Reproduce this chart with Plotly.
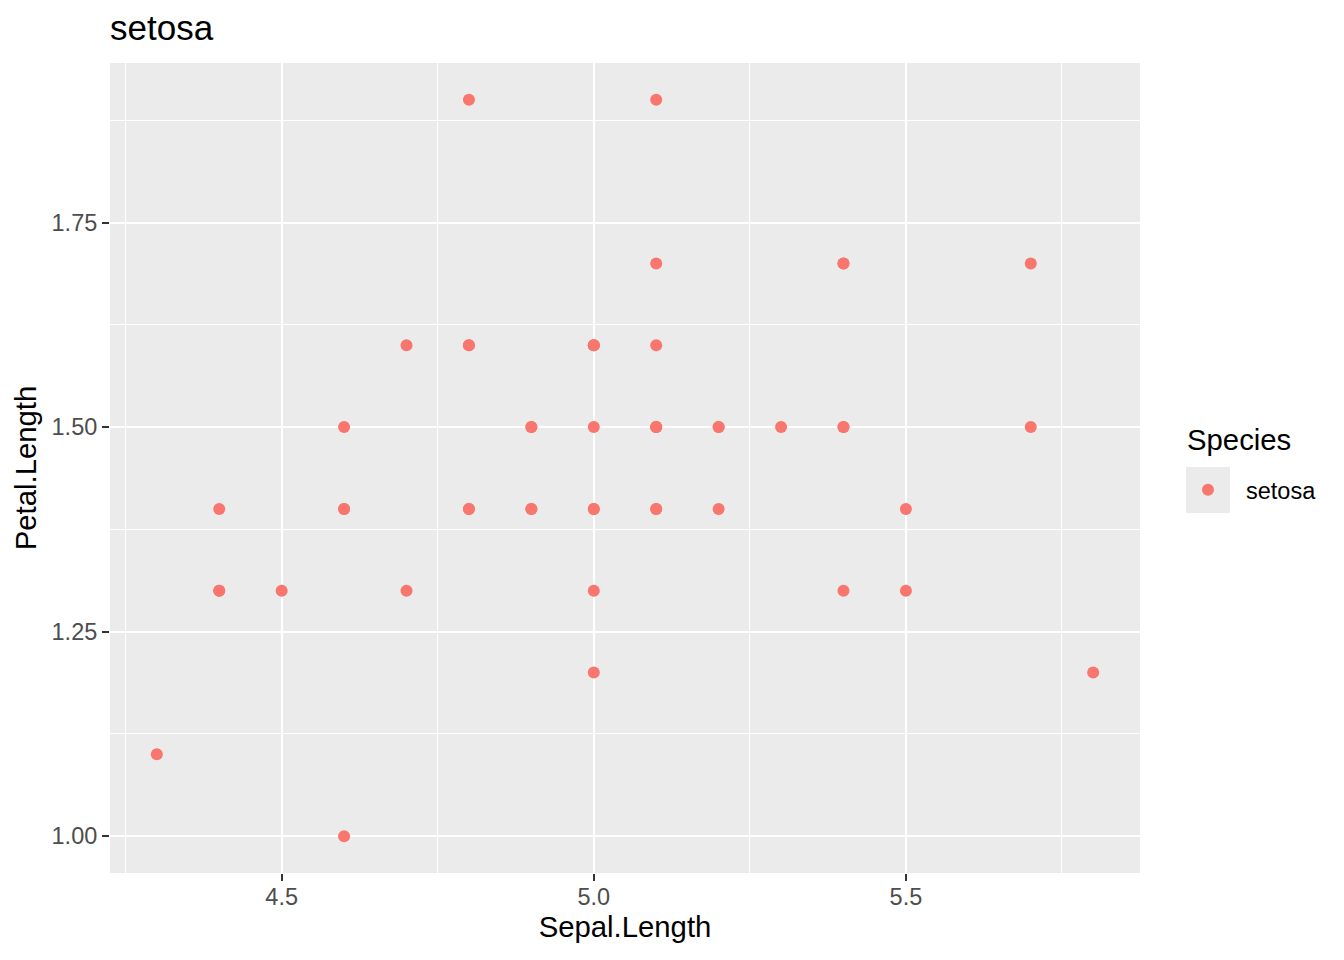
import plotly.graph_objects as go

sepal_length = [5.1, 4.9, 4.7, 4.6, 5.0, 5.4, 4.6, 5.0, 4.4, 4.9,
                5.4, 4.8, 4.8, 4.3, 5.8, 5.7, 5.4, 5.1, 5.7, 5.1,
                5.4, 5.1, 4.6, 5.1, 4.8, 5.0, 5.0, 5.2, 5.2, 4.7,
                4.8, 5.4, 5.2, 5.5, 4.9, 5.0, 5.5, 4.9, 4.4, 5.1,
                5.0, 4.5, 4.4, 5.0, 5.1, 4.8, 5.1, 4.6, 5.3, 5.0]
petal_length = [1.4, 1.4, 1.3, 1.5, 1.4, 1.7, 1.4, 1.5, 1.4, 1.5,
                1.5, 1.6, 1.4, 1.1, 1.2, 1.5, 1.3, 1.4, 1.7, 1.5,
                1.7, 1.5, 1.0, 1.7, 1.9, 1.6, 1.6, 1.5, 1.4, 1.6,
                1.6, 1.5, 1.5, 1.4, 1.5, 1.2, 1.3, 1.4, 1.3, 1.5,
                1.3, 1.3, 1.3, 1.6, 1.9, 1.4, 1.6, 1.4, 1.5, 1.4]
species = "setosa"
x_ticks = [4.5, 5.0, 5.5]
x_tick_labels = ["4.5", "5.0", "5.5"]
y_ticks = [1.00, 1.25, 1.50, 1.75]
y_tick_labels = ["1.00", "1.25", "1.50", "1.75"]

FONT = "Liberation Sans, Arial, sans-serif"
OFF = 8  # page body margin
SW, SH = 1344, 960
# plot area in screen coords
PX0, PX1, PY0, PY1 = 110, 1140, 63, 873
W, H = SW - OFF, SH - OFF
L, T = PX0 - OFF, PY0 - OFF
R, B = W - (PX1 - OFF), H - (PY1 - OFF)
pw, ph = PX1 - PX0, PY1 - PY0


def px(sx):
    return (sx - PX0) / pw


def py(sy):
    return (PY1 - sy) / ph


xmin, xmax = min(sepal_length), max(sepal_length)
ymin, ymax = min(petal_length), max(petal_length)
xpad = (xmax - xmin) * 0.05
ypad = (ymax - ymin) * 0.05

fig = go.Figure()
fig.add_trace(go.Scatter(
    x=sepal_length, y=petal_length, mode="markers", name=species,
    marker=dict(color="#F8766D", size=12, line=dict(width=0)),
))

axis_common = dict(
    showgrid=True, gridcolor="white", gridwidth=2.4,
    zeroline=False, showline=False,
    ticks="outside", ticklen=7, tickwidth=2.4, tickcolor="#333333",
    tickfont=dict(family=FONT, size=23.5, color="#4D4D4D"),
)

fig.update_xaxes(
    range=[xmin - xpad, xmax + xpad], tickmode="array",
    tickvals=x_ticks, ticktext=x_tick_labels,
    minor=dict(tickmode="linear", tick0=4.25, dtick=0.25, showgrid=True,
               gridcolor="white", gridwidth=1.2, ticks=""),
    ticklabelstandoff=-4,
    title=dict(text="Sepal.Length", font=dict(family=FONT, size=29.3, color="black"), standoff=4),
    **axis_common,
)
fig.update_yaxes(
    range=[ymin - ypad, ymax + ypad], tickmode="array",
    tickvals=y_ticks, ticktext=y_tick_labels,
    minor=dict(tickmode="linear", tick0=1.125, dtick=0.25, showgrid=True,
               gridcolor="white", gridwidth=1.2, ticks=""),
    title=dict(text="Petal.Length", font=dict(family=FONT, size=29.3, color="black"), standoff=6),
    **axis_common,
)

# legend key background
fig.add_shape(type="rect", xref="paper", yref="paper",
              x0=px(1186), x1=px(1230), y0=py(513), y1=py(467),
              fillcolor="#EBEBEB", line=dict(width=0), layer="below")

# legend title
fig.add_annotation(text="Species", xref="paper", yref="paper",
                   x=px(1185), y=py(439), xanchor="left", yanchor="middle",
                   showarrow=False, font=dict(family=FONT, size=29.3, color="black"))

fig.update_layout(
    width=W, height=H,
    margin=dict(l=L, r=R, t=T, b=B),
    paper_bgcolor="white", plot_bgcolor="#EBEBEB",
    font=dict(family=FONT, color="black"),
    title=dict(text="setosa", x=(PX0 - OFF) / W, xref="container", xanchor="left",
               y=1 - (28 - OFF) / H, yref="container", yanchor="middle",
               font=dict(family=FONT, size=35, color="black")),
    showlegend=True,
    legend=dict(
        font=dict(family=FONT, size=23.5, color="black"),
        x=px(1170), xanchor="left", y=py(490), yanchor="middle",
        bgcolor="rgba(0,0,0,0)", itemsizing="constant", itemwidth=66,
    ),
)

fig.write_html("out.html")
